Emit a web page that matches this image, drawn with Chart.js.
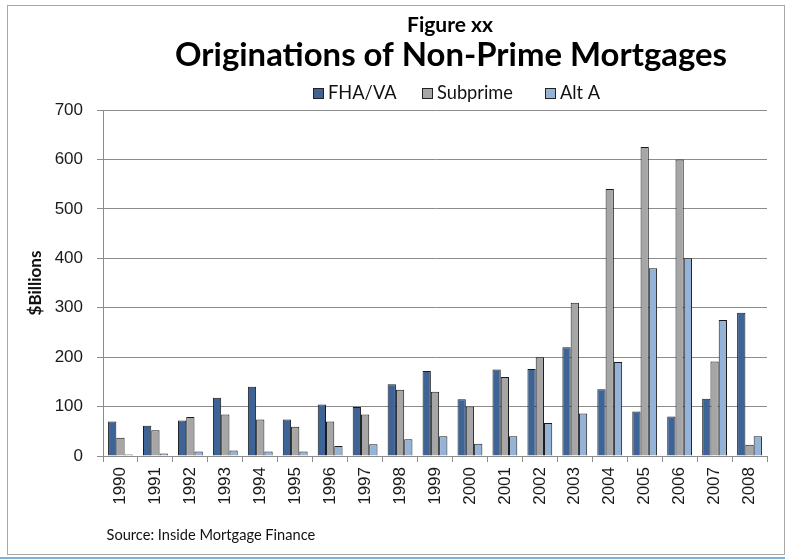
<!DOCTYPE html>
<html><head><meta charset="utf-8">
<script src="https://cdn.jsdelivr.net/npm/chart.js@4/dist/chart.umd.min.js"></script>
<style>html,body{margin:0;padding:0;background:#fff}#wrap{position:relative;width:785px;height:560px}</style>
</head><body><div id="wrap"><canvas id="c" width="785" height="560"></canvas></div>
<script>
const categories = ['1990','1991','1992','1993','1994','1995','1996','1997','1998','1999','2000','2001','2002','2003','2004','2005','2006','2007','2008'];
const fhaVa    = [70, 61, 72, 118, 140, 74, 104, 99, 145, 172, 115, 175, 176, 220, 135, 90, 80, 116, 290];
const subprime = [37, 52, 79, 84, 74, 59, 70, 84, 134, 130, 100, 160, 200, 310, 540, 625, 600, 191, 23];
const altA     = [3, 5, 9, 11, 9, 9, 20, 24, 34, 40, 25, 40, 67, 86, 190, 380, 400, 275, 40];
const yTicks = [0, 100, 200, 300, 400, 500, 600, 700];
const seriesNames = ['FHA/VA', 'Subprime', 'Alt A'];
const figureLabel = 'Figure xx';
const mainTitle = 'Originations of Non-Prime Mortgages';
const yTitle = '$Billions';
const sourceText = 'Source: Inside Mortgage Finance';

const colors = ['#3E6397', '#A6A6A6', '#95B3D7'];

function fitSize(ctx, text, weight, family, target) {
  ctx.font = weight + ' 100px ' + family;
  const w = ctx.measureText(text).width;
  return 100 * target / w;
}

const decor = {
  id: 'decor',
  beforeDraw(chart) {
    const ctx = chart.ctx;
    ctx.save();
    ctx.fillStyle = '#fff';
    ctx.fillRect(0, 0, chart.width, chart.height);
    ctx.strokeStyle = '#a8a8a8';
    ctx.lineWidth = 1;
    ctx.strokeRect(7.5, 5.5, 777, 549);
    ctx.strokeStyle = '#7fb2d6';
    ctx.lineWidth = 2;
    ctx.beginPath(); ctx.moveTo(0, 558); ctx.lineTo(785, 558); ctx.stroke();
    ctx.restore();
  },
  afterDraw(chart) {
    const ctx = chart.ctx;
    ctx.save();
    ctx.fillStyle = '#000';
    ctx.textBaseline = 'alphabetic';
    ctx.textAlign = 'center';
    let s = fitSize(ctx, figureLabel, 'bold', 'Lato', 86);
    ctx.font = 'bold ' + s + 'px Lato';
    ctx.fillText(figureLabel, 450, 32);
    s = fitSize(ctx, mainTitle, 'bold', 'Lato', 552);
    ctx.font = 'bold ' + s + 'px Lato';
    ctx.fillText(mainTitle, 451, 66);
    // legend
    const boxX = [313, 422, 545];
    s = fitSize(ctx, seriesNames[1], 'normal', 'Lato', 76);
    ctx.font = s + 'px Lato';
    ctx.textAlign = 'left';
    chart.data.datasets.forEach((ds, i) => {
      ctx.fillStyle = ds.backgroundColor;
      ctx.fillRect(boxX[i] + 0.5, 88.5, 10, 10);
      ctx.strokeStyle = '#222';
      ctx.lineWidth = 1;
      ctx.strokeRect(boxX[i] + 0.5, 88.5, 10, 10);
      ctx.fillStyle = '#111';
      ctx.fillText(ds.label, boxX[i] + 15, 98.5);
    });
    // source
    s = fitSize(ctx, sourceText, 'normal', 'Lato', 209);
    ctx.font = s + 'px Lato';
    ctx.fillStyle = '#111';
    ctx.fillText(sourceText, 106.5, 540);
    ctx.restore();
  }
};

const mk = (i, data) => ({
  label: seriesNames[i], data, backgroundColor: colors[i],
  borderColor: '#1a1a1a', borderWidth: 1,
  categoryPercentage: 0.71, barPercentage: 1.0
});

new Chart(document.getElementById('c'), {
  type: 'bar',
  data: { labels: categories, datasets: [mk(0, fhaVa), mk(1, subprime), mk(2, altA)] },
  options: {
    responsive: false, animation: false, devicePixelRatio: 1,
    layout: { padding: { top: 110, left: 20, right: 18, bottom: 0 } },
    plugins: { legend: { display: false }, title: { display: false }, tooltip: { enabled: false } },
    scales: {
      x: {
        ticks: { autoSkip: false, minRotation: 90, maxRotation: 90, padding: 5,
                 font: { family: 'Liberation Sans', size: 17 }, color: '#1a1a1a' },
        grid: { drawOnChartArea: false, offset: true, color: '#8c8c8c', tickLength: 6 },
        border: { color: '#8c8c8c', width: 1 },
        afterFit: s => { s.height = 104; }
      },
      y: {
        min: 0, max: 700,
        afterBuildTicks: s => { s.ticks = yTicks.map(v => ({ value: v })); },
        ticks: { padding: 14, font: { family: 'Liberation Sans', size: 17 }, color: '#1a1a1a' },
        grid: { color: '#8c8c8c', lineWidth: 1, tickLength: 6 },
        border: { color: '#8c8c8c', width: 1 },
        title: { display: true, text: yTitle, color: '#111',
                 font: { family: 'Lato', weight: 'bold', size: 17 }, padding: { top: 5, bottom: 0 } },
        afterFit: s => { s.width = 83; }
      }
    }
  },
  plugins: [decor]
});
</script></body></html>
